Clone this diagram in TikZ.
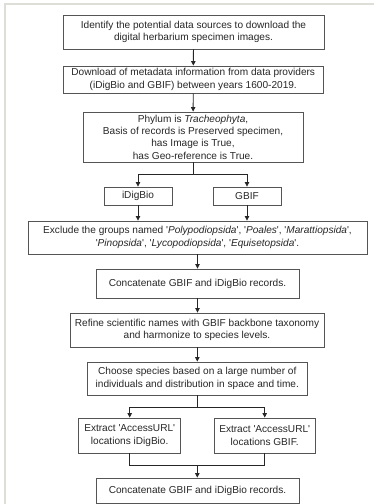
\documentclass[tikz,border=0pt]{standalone}
\usepackage{fontspec}
\setmainfont{Liberation Sans}
\usetikzlibrary{arrows.meta}
\newcommand{\sq}{\textquotesingle}
\begin{document}
\begin{tikzpicture}[x=1pt,y=-1pt,
  box/.style={draw=boxgray, line width=0.9pt, inner sep=0pt, align=center,
    font=\fontsize{10.1}{12.3}\selectfont, text=black!85},
  arr/.style={draw=black!85, line width=0.8pt, -{Triangle[length=4.5pt,width=4.5pt]}},
  ln/.style={draw=black!85, line width=0.8pt}]
\definecolor{boxgray}{HTML}{555555}
\definecolor{framegray}{HTML}{DEDED9}
\useasboundingbox (0,0) rectangle (374,504);
\draw[framegray, line width=1.6pt] (5,504) -- (5,4) -- (374,4);

\node[box, minimum width=261pt, minimum height=34pt] (b1) at (193.5,32)
  {\fontsize{10.1}{13.5}\selectfont Identify the potential data sources to download the\\ digital herbarium specimen images.};
\node[box, minimum width=260pt, minimum height=27pt] (b2) at (193.25,79.5)
  {Download of metadata information from data providers\\ (iDigBio and GBIF) between years 1600-2019.};
\node[box, minimum width=220pt, minimum height=50pt] (b3) at (193,137)
  {Phylum is \textit{Tracheophyta},\\ Basis of records is Preserved specimen,\\ has Image is True,\\ has Geo-reference is True.};
\node[box, minimum width=68pt, minimum height=18pt] (idb) at (138,196) {iDigBio};
\node[box, minimum width=68pt, minimum height=18pt] (gbif) at (247,196) {GBIF};
\node[box, minimum width=339pt, minimum height=33pt] (excl) at (197.5,237.5)
  {Exclude the groups named \sq\textit{Polypodiopsida}\sq, \sq\textit{Poales}\sq, \sq\textit{Marattiopsida}\sq,\\ \sq\textit{Pinopsida}\sq, \sq\textit{Lycopodiopsida}\sq, \sq\textit{Equisetopsida}\sq.};
\node[box, minimum width=203pt, minimum height=29pt] (cat1) at (197.5,283.5)
  {Concatenate GBIF and iDigBio records.};
\node[box, minimum width=254pt, minimum height=34pt] (ref) at (197,330)
  {Refine scientific names with GBIF backbone taxonomy\\ and harmonize to species levels.};
\node[box, minimum width=220pt, minimum height=33pt] (cho) at (197.3,378.5)
  {Choose species based on a large number of\\ individuals and distribution in space and time.};
\node[box, minimum width=102pt, minimum height=35pt] (ex1) at (129.7,435.5)
  {Extract \sq AccessURL\sq\\ locations iDigBio.};
\node[box, minimum width=101pt, minimum height=35pt] (ex2) at (264.7,435.5)
  {Extract \sq AccessURL\sq\\ locations GBIF.};
\node[box, minimum width=203pt, minimum height=25pt] (fin) at (197.5,490.5)
  {Concatenate GBIF and iDigBio records.};

\draw[arr] (b1) -- (b2);
\draw[arr] (b2) -- (b3);
\coordinate (s1) at (193,174);
\draw[ln] (b3.south) -- (s1);
\draw[arr] (s1) -| (idb.north);
\draw[arr] (s1) -| (gbif.north);
\draw[arr] (idb.south) -- (idb.south |- excl.north);
\draw[arr] (gbif.south) -- (gbif.south |- excl.north);
\draw[arr] (excl.south -| cat1.north) -- (cat1.north);
\draw[arr] (cat1.south) -- (cat1.south |- ref.north);
\draw[arr] (ref.south -| cho.north) -- (cho.north);
\coordinate (s2) at (197.3,407.3);
\draw[ln] (cho.south) -- (s2);
\draw[arr] (s2) -| (ex1.north);
\draw[arr] (s2) -| (ex2.north);
\coordinate (m) at (197.3,465);
\draw[ln] (ex1.south) |- (m);
\draw[ln] (ex2.south) |- (m);
\draw[arr] (m) -- (m |- fin.north);
\end{tikzpicture}
\end{document}
